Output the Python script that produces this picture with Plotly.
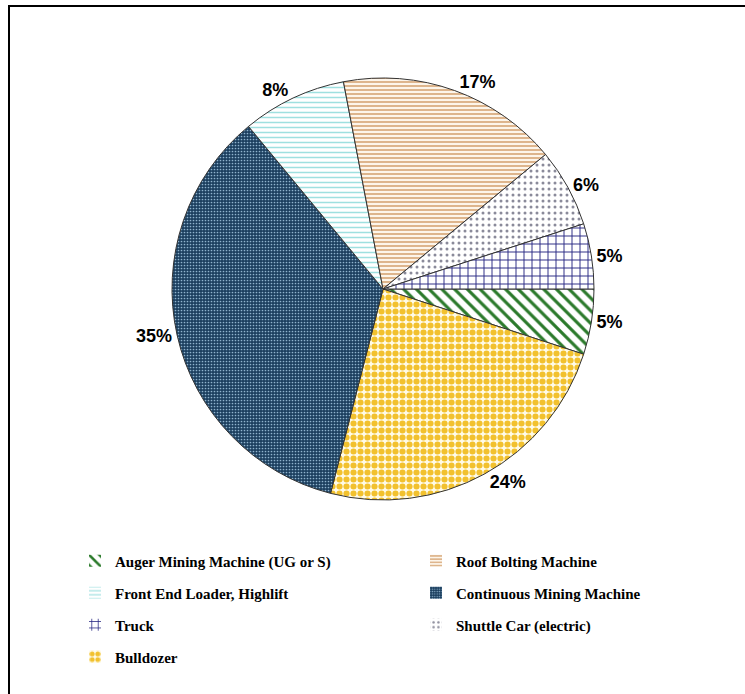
import plotly.graph_objects as go

# Data (clockwise from 3 o'clock)
categories = ["Auger Mining Machine (UG or S)", "Bulldozer", "Continuous Mining Machine",
              "Front End Loader, Highlift", "Roof Bolting Machine", "Shuttle Car (electric)", "Truck"]
values = [5, 24, 35, 8, 17, 6, 5]

# Styles per category
style = {
    "Auger Mining Machine (UG or S)": dict(shape="\\", fg="#2b7a2b", bg="#ffffff", size=9, sol=0.35),
    "Bulldozer": dict(shape=".", fg="#f2c12e", bg="#fffbe8", size=7, sol=0.6),
    "Continuous Mining Machine": dict(shape=".", fg="#8fb3cd", bg="#1c3f5f", size=3, sol=0.25),
    "Front End Loader, Highlift": dict(shape="-", fg="#9fe0e0", bg="#ffffff", size=5, sol=0.3),
    "Roof Bolting Machine": dict(shape="-", fg="#c98a4e", bg="#fdf5ea", size=4, sol=0.3),
    "Shuttle Car (electric)": dict(shape=".", fg="#8a8a9a", bg="#ffffff", size=6, sol=0.2),
    "Truck": dict(shape="+", fg="#24247f", bg="#ffffff", size=8, sol=0.22),
}

legend_rows = [
    ["Auger Mining Machine (UG or S)", "Roof Bolting Machine"],
    ["Front End Loader, Highlift", "Continuous Mining Machine"],
    ["Truck", "Shuttle Car (electric)"],
    ["Bulldozer"],
]

W, H = 745, 694
cx, cy, r = 383, 289, 211

fig = go.Figure()
fig.add_trace(go.Pie(
    labels=categories, values=values, sort=False, direction="clockwise", rotation=90,
    showlegend=False,
    marker=dict(
        colors=[style[c]["bg"] for c in categories],
        line=dict(color="#333333", width=1),
        pattern=dict(
            shape=[style[c]["shape"] for c in categories],
            fgcolor=[style[c]["fg"] for c in categories],
            bgcolor=[style[c]["bg"] for c in categories],
            size=[style[c]["size"] for c in categories],
            solidity=[style[c]["sol"] for c in categories],
            fillmode="replace",
        ),
    ),
    textposition="outside",
    texttemplate="%{percent:.0%}",
    textfont=dict(family="Liberation Sans, Arial", size=18, color="black", weight="bold"),
    domain=dict(x=[(cx - r) / W, (cx + r) / W], y=[1 - (cy + r) / H, 1 - (cy - r) / H]),
    hoverinfo="label+percent",
))

legend_names = ["legend", "legend2", "legend3", "legend4"]
row_y = [561, 593, 625, 657]
for i, row in enumerate(legend_rows):
    for c in row:
        s = style[c]
        fig.add_trace(go.Bar(
            x=[None], y=[None], name=c, legend=legend_names[i],
            marker=dict(color=s["bg"], line=dict(width=0),
                        pattern=dict(shape=s["shape"], fgcolor=s["fg"], bgcolor=s["bg"],
                                     size=s["size"], solidity=s["sol"], fillmode="replace")),
        ))

layout_legends = {}
for i, ln in enumerate(legend_names):
    layout_legends[ln] = dict(
        orientation="h", x=75 / W, xanchor="left", y=1 - row_y[i] / H, yanchor="middle",
        entrywidth=296, entrywidthmode="pixels",
        font=dict(family="Liberation Serif, Times New Roman", size=15, color="black", weight="bold"),
        bgcolor="rgba(0,0,0,0)", itemclick=False, itemdoubleclick=False,
    )

fig.update_layout(
    width=W, height=H, margin=dict(l=0, r=0, t=0, b=0, autoexpand=False),
    paper_bgcolor="white", plot_bgcolor="white",
    xaxis=dict(visible=False), yaxis=dict(visible=False),
    shapes=[dict(type="rect", xref="paper", yref="paper", x0=9 / W, x1=1.02, y0=-0.02, y1=1 - 6 / H,
                 line=dict(color="black", width=2), fillcolor="rgba(0,0,0,0)", layer="above")],
    **layout_legends,
)

fig.write_html("out.html", config={"displayModeBar": False},
               post_script="document.body.style.margin='0';")
